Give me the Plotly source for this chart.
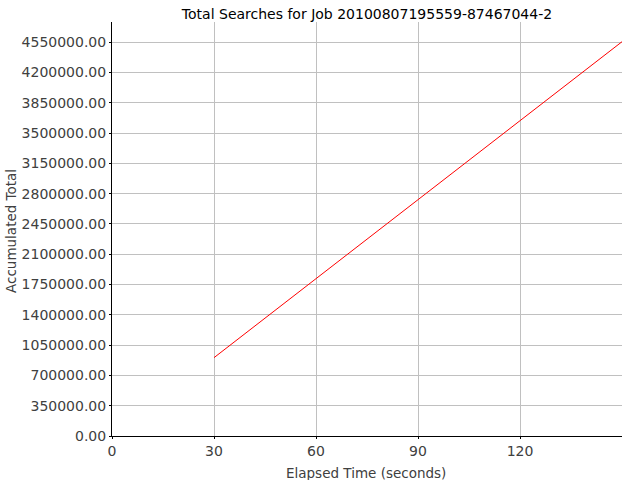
import plotly.graph_objects as go

elapsed_seconds = [30, 60, 90, 120, 150]
accumulated_total = [905000, 1817500, 2730000, 3642500, 4555000]
x_tick_values = [0, 30, 60, 90, 120]
y_tick_values = [0, 350000, 700000, 1050000, 1400000, 1750000, 2100000, 2450000,
                 2800000, 3150000, 3500000, 3850000, 4200000, 4550000]

FONT = "DejaVu Sans"
TXT = "#404040"

W, H = 640, 480
# plot area in page pixel coordinates
PL, PR, PT, PB = 112, 622, 22, 436
L, R, T, B = PL, W - PR, PT, H - PB
PW, PH = PR - PL, PB - PT


def px_x(p):
    return (p - PL) / PW


def px_y(p):
    return (PB - p) / PH


fig = go.Figure()
fig.add_trace(go.Scatter(
    x=elapsed_seconds, y=accumulated_total, mode="lines",
    line=dict(color="#ff0000", width=1), showlegend=False, hoverinfo="skip"))

fig.update_layout(
    width=W, height=H,
    margin=dict(l=L, r=R, t=T, b=B, autoexpand=False),
    paper_bgcolor="white", plot_bgcolor="white",
    font=dict(family=FONT, size=14, color=TXT),
    title=dict(text="Total Searches for Job 20100807195559-87467044-2",
               xref="paper", x=0.5, xanchor="center",
               yref="container", y=1 - 14 / H, yanchor="middle",
               font=dict(family=FONT, size=14, color="#000000")),
    annotations=[
        dict(text="Elapsed Time (seconds)", xref="paper", yref="paper",
             x=px_x(366), y=px_y(473), xanchor="center", yanchor="middle",
             showarrow=False, font=dict(family=FONT, size=13.5, color=TXT)),
        dict(text="Accumulated Total", xref="paper", yref="paper",
             x=px_x(11), y=px_y(231), xanchor="center", yanchor="middle",
             textangle=-90, showarrow=False,
             font=dict(family=FONT, size=13.5, color=TXT)),
    ],
)
fig.update_xaxes(
    range=[0, 150], tickvals=x_tick_values, ticktext=[str(v) for v in x_tick_values],
    automargin=False,
    showgrid=True, gridcolor="#c0c0c0", gridwidth=1, zeroline=False,
    showline=True, linecolor="#000000", linewidth=1,
    ticks="outside", ticklen=2, tickcolor="#000000",
    tickfont=dict(family=FONT, size=14, color=TXT),
)
fig.update_yaxes(
    range=[0, 4782750], tickvals=y_tick_values,
    tickformat=".2f", automargin=False,
    showgrid=True, gridcolor="#c0c0c0", gridwidth=1, zeroline=False,
    showline=True, linecolor="#000000", linewidth=1,
    ticks="outside", ticklen=2, tickcolor="#000000",
    tickfont=dict(family=FONT, size=14, color=TXT),
)

fig.write_html("out.html",
               config={"displayModeBar": False, "staticPlot": True},
               post_script="document.body.style.margin='0';document.body.style.padding='0';")
